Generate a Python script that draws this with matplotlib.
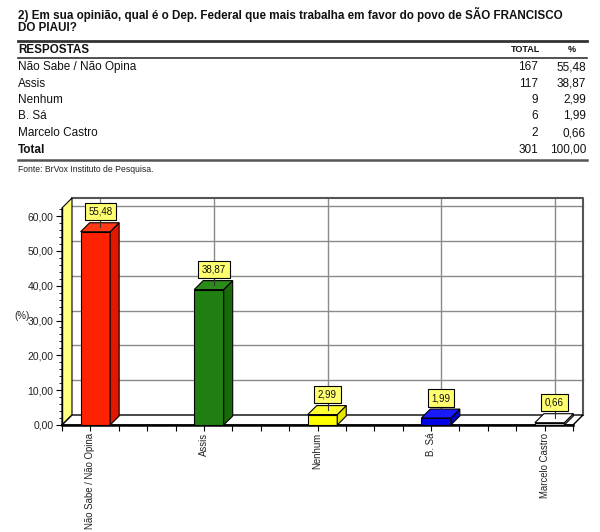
import matplotlib
matplotlib.use("Agg")
import matplotlib.pyplot as plt
from matplotlib.patches import Polygon, Rectangle
from matplotlib.lines import Line2D

plt.rcParams['font.family'] = ['Liberation Sans', 'DejaVu Sans']

# ---- data ----
title_lines = ["2) Em sua opinião, qual é o Dep. Federal que mais trabalha em favor do povo de SÃO FRANCISCO",
               "DO PIAUI?"]
categories = ["Não Sabe / Não Opina", "Assis", "Nenhum", "B. Sá", "Marcelo Castro"]
totals = [167, 117, 9, 6, 2]
percents = [55.48, 38.87, 2.99, 1.99, 0.66]
total_n = 301
total_pct = 100.00
source = "Fonte: BrVox Instituto de Pesquisa."
y_ticks = [0, 10, 20, 30, 40, 50, 60]
y_label = "(%)"

front_colors = ["#ff2200", "#1f7f10", "#ffff00", "#0000e8", "#c8c8c8"]
side_colors = ["#e01800", "#186a0a", "#e6e600", "#0000c0", "#e0e0e0"]
top_colors = ["#ff3a14", "#2a8a1a", "#ffff33", "#1a1aff", "#ffffff"]

def fmt(v):
    return f"{v:.2f}".replace('.', ',')

W, H = 600, 532
fig = plt.figure(figsize=(W / 100, H / 100), dpi=100)

def fx(x):
    return x / W

def fy(y):
    return 1 - y / H

# ---- header / table ----
fig.text(fx(18), fy(14), title_lines[0], fontsize=8.4, fontweight='bold', va='center', ha='left', color='#111')
fig.text(fx(18), fy(28), title_lines[1], fontsize=8.4, fontweight='bold', va='center', ha='left', color='#111')

def hline(y, lw, color):
    fig.add_artist(Line2D([fx(18), fx(587)], [fy(y), fy(y)], lw=lw, color=color, transform=fig.transFigure))

hline(41, 2.0, '#333333')
hline(58, 1.2, '#333333')
hline(160, 1.8, '#555555')

fig.text(fx(18), fy(50), "RESPOSTAS", fontsize=8.4, fontweight='bold', va='center', ha='left', color='#111')
fig.text(fx(540), fy(50), "TOTAL", fontsize=6.5, fontweight='bold', va='center', ha='right', color='#111')
fig.text(fx(572), fy(50), "%", fontsize=6.5, fontweight='bold', va='center', ha='center', color='#111')

row_y = [67, 84, 100, 116, 133]
for yy, c, t, p in zip(row_y, categories, totals, percents):
    fig.text(fx(18), fy(yy), c, fontsize=8.5, va='center', ha='left', color='#111')
    fig.text(fx(538), fy(yy), str(t), fontsize=8.5, va='center', ha='right', color='#111')
    fig.text(fx(586), fy(yy), fmt(p), fontsize=8.5, va='center', ha='right', color='#111')
fig.text(fx(18), fy(150), "Total", fontsize=8.5, fontweight='bold', va='center', ha='left', color='#111')
fig.text(fx(538), fy(150), str(total_n), fontsize=8.5, va='center', ha='right', color='#111')
fig.text(fx(586), fy(150), fmt(total_pct), fontsize=8.5, va='center', ha='right', color='#111')
fig.text(fx(18), fy(170), source, fontsize=6.2, va='center', ha='left', color='#222')

# ---- chart ----
left_px, right_px, bot_px, top_px = 62, 573, 425, 208
ax = fig.add_axes([fx(left_px), fy(bot_px), (right_px - left_px) / W, (bot_px - top_px) / H])
XMIN, XMAX, YMAX = -0.25, 4.25, 62.3
ax.set_xlim(XMIN, XMAX)
ax.set_ylim(0, YMAX)
ax.patch.set_alpha(0)
for s in ['top', 'right']:
    ax.spines[s].set_visible(False)
ax.spines['left'].set_color('black')
ax.spines['left'].set_linewidth(1.0)
ax.spines['bottom'].set_color('black')
ax.spines['bottom'].set_linewidth(1.8)

pxx = (right_px - left_px) / (XMAX - XMIN)
pxy = (bot_px - top_px) / YMAX
DX, DY = 10 / pxx, 10 / pxy
BDX, BDY = 9 / pxx, 9 / pxy
OFF, BW = 5 / pxx, 29.5 / pxx

# back wall
ax.add_patch(Rectangle((XMIN + DX, DY), XMAX - XMIN, YMAX, fc='white', ec='none', zorder=0, clip_on=False))
for v in y_ticks[1:]:
    ax.plot([XMIN + DX, XMAX + DX], [v + DY, v + DY], color='#8a8a8a', lw=1.0, zorder=1, clip_on=False)
for i in range(len(categories)):
    ax.plot([i + DX, i + DX], [DY, YMAX + DY], color='#8a8a8a', lw=1.0, zorder=1, clip_on=False)
ax.plot([XMIN + DX, XMAX + DX, XMAX + DX], [YMAX + DY, YMAX + DY, DY], color='#555555', lw=1.5, zorder=1, clip_on=False)

# left wall
ax.add_patch(Polygon([(XMIN, 0), (XMIN + DX, DY), (XMIN + DX, YMAX + DY), (XMIN, YMAX)],
                     closed=True, fc='#ffff80', ec='black', lw=0.8, zorder=2, clip_on=False))
# floor
ax.add_patch(Polygon([(XMIN, 0), (XMAX, 0), (XMAX + DX, DY), (XMIN + DX, DY)],
                     closed=True, fc='white', ec='black', lw=1.0, zorder=2, clip_on=False))

# bars
for i, v in enumerate(percents):
    x0 = i + OFF - BW / 2
    ax.bar(x0, v, width=BW, align='edge', color=front_colors[i], edgecolor='black', lw=0.8, zorder=4)
    ax.add_patch(Polygon([(x0 + BW, 0), (x0 + BW + BDX, BDY), (x0 + BW + BDX, v + BDY), (x0 + BW, v)],
                         closed=True, fc=side_colors[i], ec='black', lw=0.8, zorder=4, clip_on=False))
    ax.add_patch(Polygon([(x0, v), (x0 + BW, v), (x0 + BW + BDX, v + BDY), (x0 + BDX, v + BDY)],
                         closed=True, fc=top_colors[i], ec='black', lw=0.8, zorder=4, clip_on=False))
    ly = v + BDY + 11 / pxy
    ax.plot([i + DX, i + DX], [v + BDY / 2, ly], color='#333333', lw=0.8, zorder=5, clip_on=False)
    ax.text(i + DX, ly, fmt(v), fontsize=7, ha='center', va='center', color='#111', zorder=6,
            bbox=dict(boxstyle='square,pad=0.38', fc='#ffff70', ec='black', lw=0.8))

# axes ticks
ax.set_yticks(y_ticks)
ax.set_yticklabels([fmt(v) for v in y_ticks], fontsize=7.5, color='#222')
ax.set_yticks([v for v in range(0, 63, 2) if v % 10 != 0], minor=True)
ax.tick_params(axis='y', which='major', length=4, width=0.8, direction='out', pad=2)
ax.tick_params(axis='y', which='minor', length=2.5, width=0.6, direction='out')

ax.set_xticks(range(len(categories)))
ax.set_xticklabels(categories, rotation=90, fontsize=6.9, va='top', ha='center', color='#222')
ax.set_xticks([XMIN + 0.25 * k for k in range(19) if k % 4 != 1], minor=True)
ax.tick_params(axis='x', which='major', length=4, width=0.8, direction='out', pad=1.5)
ax.tick_params(axis='x', which='minor', length=4, width=0.8, direction='out')

fig.text(fx(22), fy(316), y_label, fontsize=7, ha='center', va='center', color='#222')

fig.savefig("out.png", dpi=100)
